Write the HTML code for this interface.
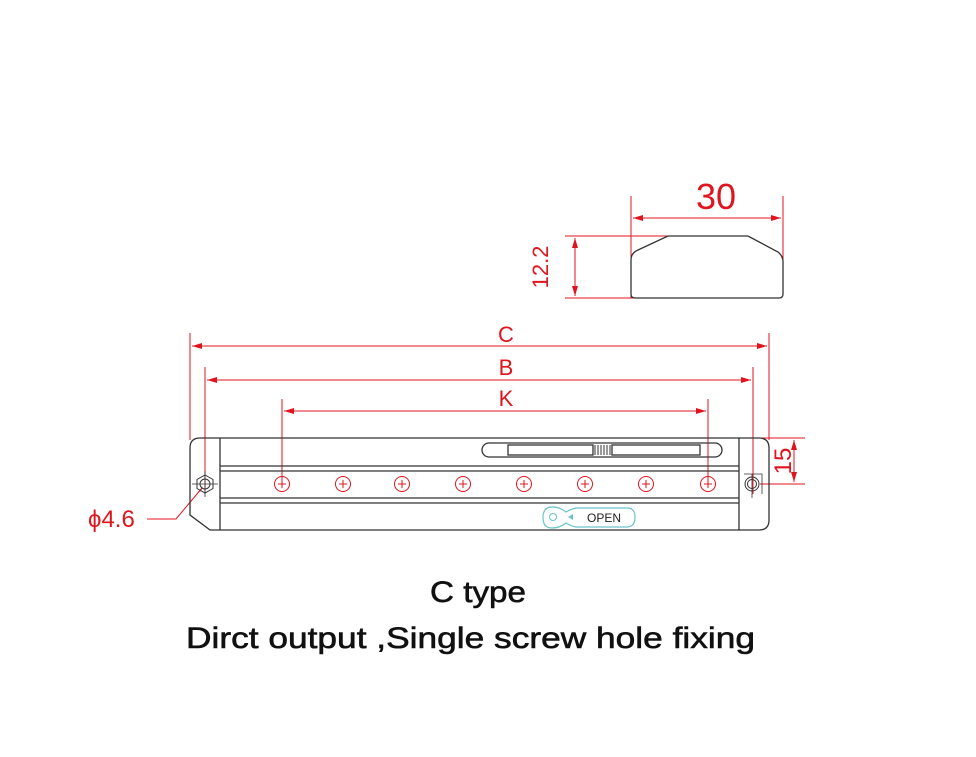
<!DOCTYPE html>
<html><head><meta charset="utf-8"><style>html,body{margin:0;padding:0;background:#fff}svg{display:block}</style></head>
<body>
<svg width="976" height="757" viewBox="0 0 976 757" xmlns="http://www.w3.org/2000/svg">
<defs>
<marker id="a" viewBox="0 0 10 6" refX="10" refY="3" markerWidth="10" markerHeight="6" orient="auto-start-reverse" markerUnits="userSpaceOnUse"><path d="M0,0 L10,3 L0,6 z" fill="#e0141e"/></marker>
</defs>
<g fill="none" stroke="#e0141e" stroke-width="1">
<line x1="631" y1="196" x2="631" y2="298"/>
<line x1="783" y1="196" x2="783" y2="290"/>
<line x1="633" y1="218" x2="781" y2="218" marker-start="url(#a)" marker-end="url(#a)"/>
<line x1="565" y1="236" x2="668" y2="236"/>
<line x1="565" y1="298" x2="640" y2="298"/>
<line x1="575" y1="238" x2="575" y2="296" marker-start="url(#a)" marker-end="url(#a)"/>
<line x1="190" y1="333" x2="190" y2="440"/>
<line x1="769" y1="333" x2="769" y2="440"/>
<line x1="192" y1="346" x2="767" y2="346" marker-start="url(#a)" marker-end="url(#a)"/>
<line x1="205" y1="367" x2="205" y2="494"/>
<line x1="753" y1="367" x2="753" y2="494"/>
<line x1="207" y1="380" x2="751" y2="380" marker-start="url(#a)" marker-end="url(#a)"/>
<line x1="282" y1="399" x2="282" y2="484"/>
<line x1="708" y1="399" x2="708" y2="484"/>
<line x1="284" y1="411" x2="706" y2="411" marker-start="url(#a)" marker-end="url(#a)"/>
<line x1="760" y1="438" x2="805" y2="438"/>
<line x1="760" y1="484" x2="805" y2="484"/>
<line x1="794" y1="440" x2="794" y2="482" marker-start="url(#a)" marker-end="url(#a)"/>
<polyline points="147,519 176,519 202,488"/>
<g>
<circle cx="282" cy="484" r="7.5"/><circle cx="343" cy="484" r="7.5"/><circle cx="402" cy="484" r="7.5"/><circle cx="463" cy="484" r="7.5"/>
<circle cx="524" cy="484" r="7.5"/><circle cx="585" cy="484" r="7.5"/><circle cx="646" cy="484" r="7.5"/><circle cx="708" cy="484" r="7.5"/>
</g>
<path d="M278,484h8M343,480v8M339,484h8M402,480v8M398,484h8M463,480v8M459,484h8M524,480v8M520,484h8M585,480v8M581,484h8M646,480v8M642,484h8M708,480v8M704,484h8M282,480v8" />
</g>
<path d="M199,492 L203,486 L201,491 z" fill="#e0141e"/>
<g fill="none" stroke="#333" stroke-width="1.3">
<path d="M668,236 H748 L778,252 Q783,256 783,262 V294 Q783,298 779,298 H635 Q631,298 631,294 V260 Q631,253 638,250 L668,236 Z"/>
<path d="M200,438 H759 Q769,438 769,448 V520 Q769,530 759,530 H210 L190,515 V448 Q190,438 200,438 Z"/>
<line x1="220" y1="438" x2="220" y2="530"/>
<line x1="739" y1="438" x2="739" y2="530"/>
<line x1="220" y1="466" x2="739" y2="466"/>
<line x1="220" y1="471" x2="739" y2="471"/>
<line x1="220" y1="498" x2="739" y2="498"/>
<line x1="220" y1="503" x2="739" y2="503"/>
<rect x="482" y="443" width="240" height="14" rx="7"/>
<rect x="508" y="445" width="85" height="10"/>
<rect x="612" y="445" width="88" height="10"/>
<path d="M595,445v10M598,445v10M601,445v10M604,445v10M607,445v10M610,445v10" stroke-width="1"/>
<polygon points="205,475 213,479.5 213,488.5 205,493 197,488.5 197,479.5" stroke-width="1"/>
<circle cx="205" cy="484" r="5" stroke-width="1"/>
<line x1="192" y1="484" x2="218" y2="484" stroke-width="0.8"/>
<line x1="205" y1="471" x2="205" y2="497" stroke-width="0.8"/>
<circle cx="752" cy="484" r="7" stroke-width="1"/>
<circle cx="752" cy="484" r="4.5" stroke-width="1"/>
<path d="M744,474 H762 V494" stroke-width="0.8"/>
<line x1="752" y1="474" x2="752" y2="498" stroke-width="0.8"/>
</g>
<path d="M552,507 Q560,507 566,512 Q571,509 576,508 H627 Q635,508 635,517 Q635,527 627,527 H576 Q571,526 566,523 Q560,528 552,528 Q543,528 543,517.5 Q543,507 552,507 Z" fill="none" stroke="#6cc3cc" stroke-width="1.2"/>
<circle cx="553" cy="517" r="3.5" fill="none" stroke="#6cc3cc" stroke-width="1"/>
<polygon points="568,517 573,514 573,520" fill="#6cc3cc"/>
<text x="587" y="522" font-family="Liberation Sans, sans-serif" font-size="12" fill="#222">OPEN</text>
<g fill="#e0141e" font-family="Liberation Sans, sans-serif">
<text x="716" y="209" font-size="36" text-anchor="middle">30</text>
<text transform="translate(548,267) rotate(-90)" font-size="22" text-anchor="middle">12.2</text>
<text x="506" y="342" font-size="22" text-anchor="middle">C</text>
<text x="506" y="375" font-size="22" text-anchor="middle">B</text>
<text x="506" y="406" font-size="22" text-anchor="middle">K</text>
<text transform="translate(791,461) rotate(-90)" font-size="24" text-anchor="middle">15</text>
<text x="88" y="527" font-size="24">ϕ4.6</text>
</g>
<g fill="#111" stroke="#111" stroke-width="0.6" font-family="Liberation Sans, sans-serif">
<text x="478" y="602" font-size="30" text-anchor="middle" textLength="96" lengthAdjust="spacingAndGlyphs">C type</text>
<text x="186" y="648" font-size="30" textLength="569" lengthAdjust="spacingAndGlyphs">Dirct output ,Single screw hole fixing</text>
</g>
</svg>
</body></html>
